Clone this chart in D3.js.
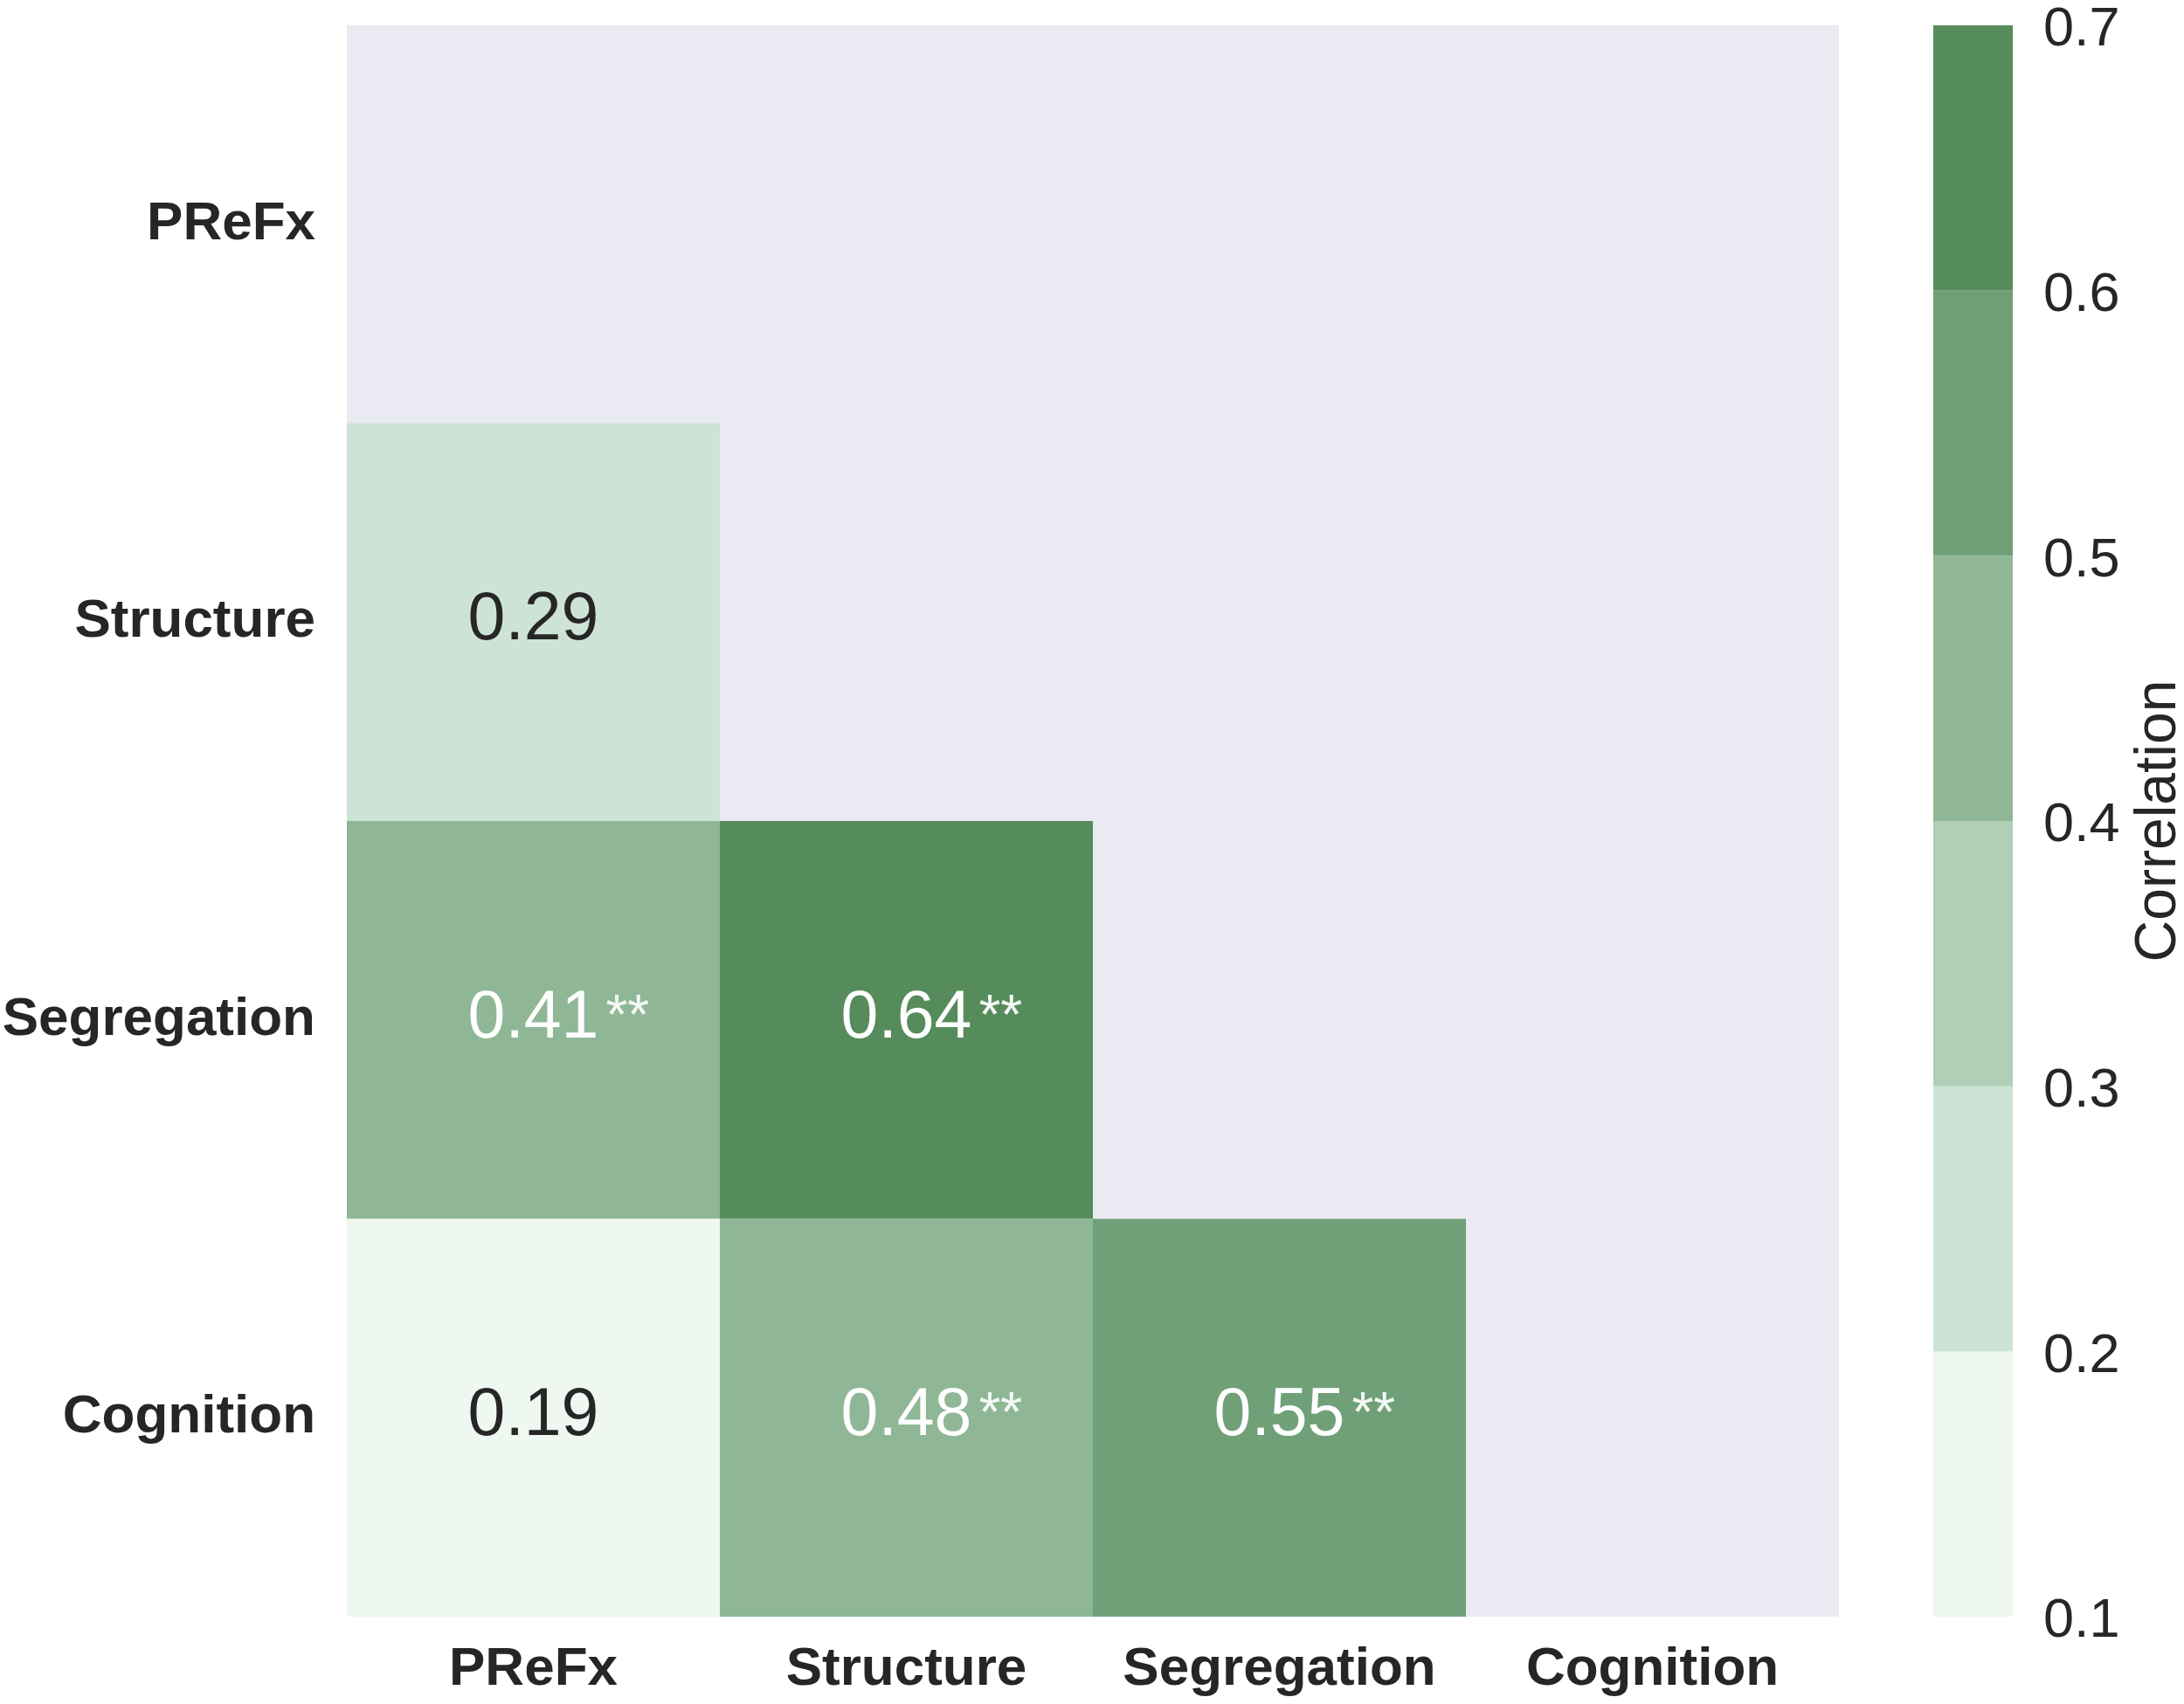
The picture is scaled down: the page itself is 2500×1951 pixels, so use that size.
<!DOCTYPE html>
<html>
<head>
<meta charset="utf-8">
<script src="https://cdn.jsdelivr.net/npm/d3@7"></script>
<style>
  html, body { margin: 0; padding: 0; background: #ffffff; }
  svg { display: block; }
  text { font-family: "Liberation Sans", Arial, Helvetica, sans-serif; }
</style>
</head>
<body>
<svg id="chart" width="2500" height="1951"></svg>
<script>
// ---- data ----
const labels = ["PReFx", "Structure", "Segregation", "Cognition"];
// lower-triangle correlations
const cellRows = ["Structure", "Segregation", "Segregation", "Cognition", "Cognition", "Cognition"];
const cellCols = ["PReFx", "PReFx", "Structure", "PReFx", "Structure", "Segregation"];
const cellValues = [0.29, 0.41, 0.64, 0.19, 0.48, 0.55];
const cellStars = ["", "**", "**", "", "**", "**"];
const binEdges = [0.1, 0.2, 0.3, 0.4, 0.5, 0.6, 0.7];
const binColors = ["#eef7f0", "#cde3d5", "#b0cfb6", "#8fb795", "#70a078", "#568b5b"];
const colorbarTicks = [0.1, 0.2, 0.3, 0.4, 0.5, 0.6, 0.7];
const colorbarLabel = "Correlation";

(function () {
// ---- layout ----
const svg = d3.select("#chart");
const mLeft = 397, mRight = 2105, mTop = 29, mBottom = 1851;
const cbLeft = 2213, cbRight = 2304;
const textDark = "#262626";

const x = d3.scaleBand().domain(labels).range([mLeft, mRight]).padding(0);
const y = d3.scaleBand().domain(labels).range([mTop, mBottom]).padding(0);
const color = d3.scaleThreshold().domain(binEdges.slice(1, -1)).range(binColors);
const cb = d3.scaleLinear().domain([binEdges[0], binEdges[binEdges.length - 1]]).range([mBottom, mTop]);

// background (masked area)
svg.append("rect")
  .attr("x", mLeft).attr("y", mTop)
  .attr("width", mRight - mLeft).attr("height", mBottom - mTop)
  .attr("fill", "#eaeaf2");

const cells = cellValues.map((v, i) => ({ row: cellRows[i], col: cellCols[i], value: v, stars: cellStars[i] }));

svg.append("g").selectAll("rect").data(cells).join("rect")
  .attr("x", d => x(d.col))
  .attr("y", d => y(d.row))
  .attr("width", x.bandwidth())
  .attr("height", y.bandwidth())
  .attr("fill", d => color(d.value));

// annotations
const annG = svg.append("g");
cells.forEach(d => {
  const cx = x(d.col) + x.bandwidth() / 2;
  const cy = y(d.row) + y.bandwidth() / 2;
  const fill = d.value >= 0.4 ? "#ffffff" : textDark;
  const t = annG.append("text")
    .attr("x", cx).attr("y", cy + 20)
    .attr("text-anchor", "middle")
    .attr("font-size", 77)
    .attr("fill", fill)
    .text(d.value.toFixed(2));
  if (d.stars) {
    const w = t.node().getComputedTextLength();
    annG.append("text")
      .attr("x", cx + w / 2 + 8).attr("y", cy + 16)
      .attr("text-anchor", "start")
      .attr("font-size", 64)
      .attr("fill", "#f4f8f4")
      .text(d.stars);
  }
});

// y axis
const yAxis = svg.append("g")
  .attr("transform", `translate(${mLeft},0)`)
  .call(d3.axisLeft(y).tickSize(0).tickPadding(36));
yAxis.select(".domain").remove();
yAxis.selectAll("text")
  .attr("font-size", 62).attr("font-weight", "bold")
  .attr("fill", textDark).attr("dy", "0.27em")
  .style("font-family", '"Liberation Sans", Arial, sans-serif');

// x axis
const xAxis = svg.append("g")
  .attr("transform", `translate(0,${mBottom})`)
  .call(d3.axisBottom(x).tickSize(0).tickPadding(34));
xAxis.select(".domain").remove();
xAxis.selectAll("text")
  .attr("font-size", 62).attr("font-weight", "bold")
  .attr("fill", textDark)
  .style("font-family", '"Liberation Sans", Arial, sans-serif');

// colorbar
const bins = binColors.map((c, i) => ({ lo: binEdges[i], hi: binEdges[i + 1], c }));
svg.append("g").selectAll("rect").data(bins).join("rect")
  .attr("x", cbLeft)
  .attr("y", d => cb(d.hi))
  .attr("width", cbRight - cbLeft)
  .attr("height", d => cb(d.lo) - cb(d.hi))
  .attr("fill", d => d.c);

const cbAxis = svg.append("g")
  .attr("transform", `translate(${cbRight},0)`)
  .call(d3.axisRight(cb).tickValues(colorbarTicks).tickFormat(d3.format(".1f")).tickSize(0).tickPadding(35));
cbAxis.select(".domain").remove();
cbAxis.selectAll("text")
  .attr("font-size", 63).attr("fill", textDark).attr("dy", "0.36em")
  .style("font-family", '"Liberation Sans", Arial, sans-serif');

svg.append("text")
  .attr("transform", `translate(2490,${(mTop + mBottom) / 2}) rotate(-90)`)
  .attr("text-anchor", "middle")
  .attr("font-size", 66)
  .attr("fill", textDark)
  .text(colorbarLabel);
})();
</script>
</body>
</html>
